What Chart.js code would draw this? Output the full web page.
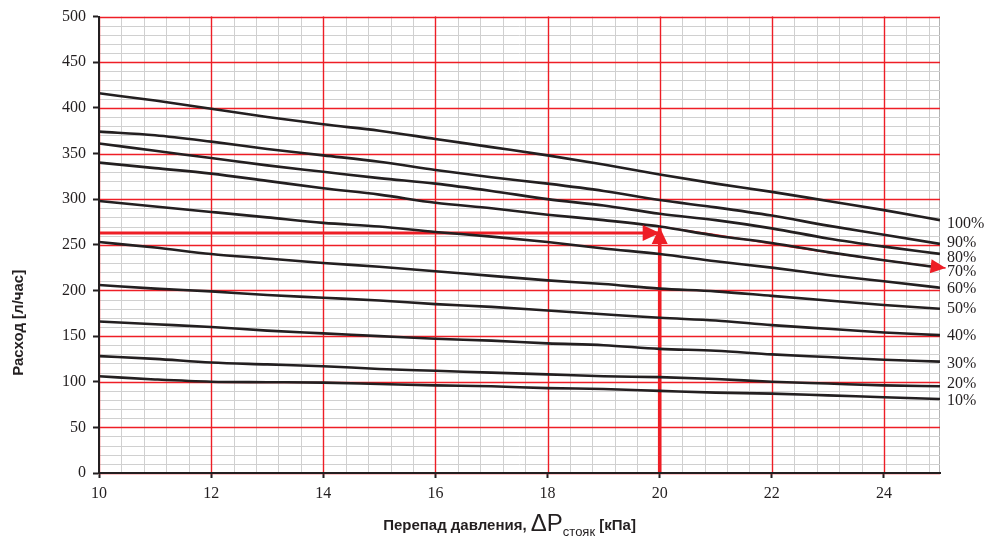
<!DOCTYPE html>
<html>
<head>
<meta charset="utf-8">
<script src="https://cdn.jsdelivr.net/npm/chart.js@4.4.0/dist/chart.umd.min.js"></script>
<style>
html,body{margin:0;padding:0;background:#fff;}
</style>
</head>
<body>
<canvas id="grafico" width="988" height="542"></canvas>
<script>
// перепад давления, кПа
var presion=[10,11,12,13,14,15,16,17,18,19,20,21,22,23,24,25];
var apertura=["100%","90%","80%","70%","60%","50%","40%","30%","20%","10%"];
var s100=[416,408,399,390,382,375,366,357,348,338,327,317,308,298,288,277];
var s90=[374,370,363,355,348,341,332,324,317,309,299,291,282,271,261,251];
var s80=[361,353,345,337,330,323,317,309,300,293,284,277,268,257,248,240];
var s70=[340,334,328,320,312,305,296,290,283,277,270,260,252,242,233,225];
var s60=[298,292,286,280,274,270,264,259,253,246,240,232,225,217,210,203];
var s50=[253,247,240,235,230,226,221,216,211,207,202,199,194,189,184,180];
var s40=[206,202,199,195,192,189,185,182,178,174,170,167,162,158,154,151];
var s30=[166,163,160,156,153,150,147,145,142,140,136,134,130,127,124,122];
var s20=[128,125,121,119,117,114,112,110,108,106,105,103,100,98,96,95];
var s10=[106,102.5,100,99.5,99,97.5,96,95,93,92,90,88,87,85,83,81];
var series=[s100,s90,s80,s70,s60,s50,s40,s30,s20,s10];
var ejeX=[10,12,14,16,18,20,22,24];
var ejeY=[0,50,100,150,200,250,300,350,400,450,500];

// пример подбора (красные стрелки)
var flechaHx=[10,20], flechaHy=[263,263];
var flechaVx=[20,20], flechaVy=[0,269.5];
var flechaCx=[20,21,22,23,24,25.1], flechaCy=[270,261,251,241.5,233,224.5];

var ajuste=[4,-1.5,4,4,1.5,0.5,1,2,-2.5,2];
var rojo='rgb(238,30,38)';
var gris='#d0d0d0';
var negro='#231f20';

function pts(xs,ys){ return xs.map(function(v,i){return {x:v,y:ys[i]};}); }

var datasets=[];
for(var i=0;i<series.length;i++){
  datasets.push({label:apertura[i],data:pts(presion,series[i]),borderColor:negro,borderWidth:2.6,
    pointRadius:0,cubicInterpolationMode:'monotone',fill:false});
}
datasets.push({label:'h',data:pts(flechaHx,flechaHy),borderColor:rojo,borderWidth:3,pointRadius:0,flecha:[17,8],clip:false});
datasets.push({label:'v',data:pts(flechaVx,flechaVy),borderColor:rojo,borderWidth:3.5,pointRadius:0,flecha:[17,8],clip:false});
datasets.push({label:'c',data:pts(flechaCx,flechaCy),borderColor:rojo,borderWidth:1.5,pointRadius:0,flecha:[15,7],clip:false,cubicInterpolationMode:'monotone'});

// сетка рисуется по шкалам: мелкая серая, основная красная
var cuadricula={
  id:'cuadricula',
  beforeDatasetsDraw:function(chart){
    var ctx=chart.ctx, ca=chart.chartArea, sx=chart.scales.x, sy=chart.scales.y;
    function linea(x1,y1,x2,y2,col,w){
      ctx.strokeStyle=col;
      ctx.lineWidth=w;
      ctx.beginPath();ctx.moveTo(x1,y1);ctx.lineTo(x2,y2);ctx.stroke();
    }
    ctx.save();
    var i,p;
    for(i=0;i<=37;i++){
      p=Math.round(sx.getPixelForValue(10+i*0.4))+0.5;
      linea(p,ca.top,p,ca.bottom,gris,1);
    }
    p=Math.round(sx.getPixelForValue(25))-0.5;
    linea(p,ca.top,p,ca.bottom,'#b4b4b4',1);
    for(i=0;i<=50;i++){
      p=Math.round(sy.getPixelForValue(i*10))+0.5;
      linea(ca.left,p,ca.right,p,gris,1);
    }
    ejeX.forEach(function(v){
      p=Math.round(sx.getPixelForValue(v))+0.5;
      linea(p,ca.top,p,ca.bottom,rojo,1.4);
    });
    ejeY.forEach(function(v){
      p=Math.round(sy.getPixelForValue(v))+0.5;
      linea(ca.left,p,ca.right,p,rojo,1.4);
    });
    ctx.restore();
  }
};

var flechas={
  id:'flechas',
  afterDatasetsDraw:function(chart){
    var ctx=chart.ctx;
    chart.data.datasets.forEach(function(ds,k){
      if(!ds.flecha) return;
      var el=chart.getDatasetMeta(k).data;
      var a=el[el.length-2], b=el[el.length-1];
      var ang=Math.atan2(b.y-a.y,b.x-a.x);
      var L=ds.flecha[0], W=ds.flecha[1];
      ctx.save();
      ctx.translate(b.x,b.y);
      ctx.rotate(ang);
      ctx.fillStyle=rojo;
      ctx.beginPath();
      ctx.moveTo(0,0);
      ctx.lineTo(-L,-W);
      ctx.lineTo(-L,W);
      ctx.closePath();
      ctx.fill();
      ctx.restore();
    });
  }
};

var etiquetas={
  id:'etiquetas',
  afterDatasetsDraw:function(chart){
    var ctx=chart.ctx;
    ctx.save();
    ctx.font='16px "Liberation Serif"';
    ctx.fillStyle=negro;
    ctx.textBaseline='middle';
    ctx.textAlign='left';
    for(var i=0;i<series.length;i++){
      var el=chart.getDatasetMeta(i).data;
      var p=el[el.length-1];
      ctx.fillText(apertura[i],p.x+7,p.y+ajuste[i]);
    }
    ctx.restore();
  }
};

var titulos={
  id:'titulos',
  afterDraw:function(chart){
    var ctx=chart.ctx, ca=chart.chartArea;
    ctx.save();
    ctx.fillStyle=negro;
    ctx.translate(19,(ca.top+ca.bottom)/2+78);
    ctx.rotate(-Math.PI/2);
    ctx.font='bold 15px "Liberation Sans"';
    ctx.textAlign='center';
    ctx.textBaseline='middle';
    ctx.fillText('Расход [л/час]',0,0);
    ctx.restore();

    ctx.save();
    ctx.fillStyle=negro;
    ctx.textBaseline='alphabetic';
    ctx.textAlign='left';
    var partes=[
      ['Перепад давления, ','bold 15px "Liberation Sans"',0],
      ['ΔP','24px "Liberation Sans"',1],
      ['стояк','13px "Liberation Sans"',6],
      [' [кПа]','bold 15px "Liberation Sans"',0]
    ];
    var total=0;
    partes.forEach(function(p){ctx.font=p[1];total+=ctx.measureText(p[0]).width;});
    var x=(ca.left+ca.right)/2-10-total/2, y=530;
    partes.forEach(function(p){
      ctx.font=p[1];
      ctx.fillText(p[0],x,y+p[2]);
      x+=ctx.measureText(p[0]).width;
    });
    ctx.restore();
  }
};

new Chart(document.getElementById('grafico'),{
  type:'line',
  data:{datasets:datasets},
  options:{
    responsive:false,
    devicePixelRatio:1,
    animation:false,
    layout:{padding:{top:13,right:48,left:0,bottom:0}},
    plugins:{legend:{display:false},tooltip:{enabled:false}},
    scales:{
      x:{type:'linear',position:'bottom',min:10,max:25,
        afterBuildTicks:function(s){s.ticks=ejeX.map(function(v){return {value:v};});},
        afterFit:function(s){s.height=69;},
        grid:{drawOnChartArea:false,tickLength:5,tickWidth:2,tickColor:negro},
        border:{color:negro,width:2,z:1},
        ticks:{font:{family:'Liberation Serif',size:16},color:negro,padding:6,maxRotation:0,autoSkip:false}},
      y:{type:'linear',position:'left',min:0,max:500,
        afterBuildTicks:function(s){s.ticks=ejeY.map(function(v){return {value:v};});},
        afterFit:function(s){s.width=99;},
        grid:{drawOnChartArea:false,tickLength:6,tickWidth:2,tickColor:negro},
        border:{color:negro,width:2,z:1},
        ticks:{font:{family:'Liberation Serif',size:16},color:negro,padding:7,autoSkip:false}}
    }
  },
  plugins:[cuadricula,flechas,etiquetas,titulos]
});
</script>
</body>
</html>
